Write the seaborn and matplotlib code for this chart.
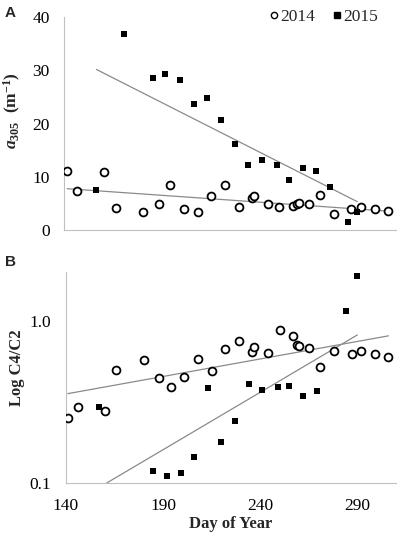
import matplotlib

matplotlib.use("Agg")

import matplotlib.pyplot as plt
import numpy as np
import pandas as pd
import seaborn as sns
from matplotlib.lines import Line2D
from matplotlib.ticker import FixedLocator, NullLocator

# 2014 sampling days and values (both panels share the same samples)
day_2014 = [141, 146, 160, 166, 180, 188, 194, 201, 208, 215, 222, 229, 236,
            237, 244, 250, 257, 259, 260, 265, 271, 278, 287, 292, 299, 306]
a305_2014 = [11.0, 7.4, 10.9, 4.1, 3.4, 4.8, 8.5, 3.9, 3.3, 6.4, 8.5, 4.3, 6.0,
             6.4, 4.9, 4.3, 4.5, 4.8, 5.1, 4.8, 6.6, 3.0, 3.9, 4.3, 3.9, 3.5]
c4c2_2014 = [0.25, 0.295, 0.278, 0.50, 0.574, 0.445, 0.388, 0.45, 0.58, 0.49, 0.67, 0.75, 0.64,
             0.685, 0.634, 0.87, 0.80, 0.71, 0.70, 0.68, 0.52, 0.65, 0.62, 0.65, 0.62, 0.60]

# 2015 samples
day_2015_a = [156, 170, 185, 191, 199, 206, 213, 220, 227, 234, 241, 249, 255, 262, 269, 276, 285, 290]
a305_2015 = [7.5, 36.9, 28.6, 29.3, 28.1, 23.6, 24.8, 20.7, 16.2, 12.3, 13.1, 12.3, 9.4, 11.7, 11.0, 8.1, 1.5, 3.3]
day_2015_b = [157, 185, 192, 199, 206, 213, 220, 227, 234, 241, 249, 255, 262, 269, 284, 290]
c4c2_2015 = [0.295, 0.119, 0.110, 0.116, 0.144, 0.384, 0.178, 0.241, 0.405, 0.374, 0.39, 0.395,
             0.343, 0.368, 1.15, 1.89]

x_ticks = [140, 190, 240, 290]

sns.set_theme(style="white")
plt.rcParams.update(
    {
        "font.family": ["Liberation Serif", "DejaVu Serif"],
        "mathtext.fontset": "custom",
        "mathtext.rm": "Liberation Serif:bold",
        "mathtext.it": "Liberation Serif:italic:bold",
        "mathtext.bf": "Liberation Serif:bold",
        "axes.edgecolor": "#c0c0c0",
        "axes.linewidth": 0.8,
        "xtick.color": "#c0c0c0",
        "ytick.color": "#c0c0c0",
        "xtick.labelcolor": "black",
        "ytick.labelcolor": "black",
    }
)

GRAY = "#8a8a8a"
circ = dict(marker="o", s=32, facecolor="white", edgecolor="black", linewidth=1.3, zorder=3)
sq = dict(marker="s", s=22, color="black", linewidth=0, zorder=3)

a14 = pd.DataFrame({"day": day_2014, "a305": a305_2014, "c4c2": c4c2_2014})
a15 = pd.DataFrame({"day": day_2015_a, "a305": a305_2015})
b15 = pd.DataFrame({"day": day_2015_b, "c4c2": c4c2_2015})

fig = plt.figure(figsize=(3.97, 5.35), dpi=100)
ax1 = fig.add_axes([0.162, 0.570, 0.836, 0.398])
ax2 = fig.add_axes([0.166, 0.097, 0.832, 0.395])

# panel A
for df in (a14, a15):
    sns.regplot(data=df, x="day", y="a305", ax=ax1, scatter=False, ci=None, truncate=True,
                line_kws=dict(color=GRAY, linewidth=0.9, zorder=2))
sns.scatterplot(data=a14, x="day", y="a305", ax=ax1, **circ)
sns.scatterplot(data=a15, x="day", y="a305", ax=ax1, **sq)
ax1.set_xlim(139.5, 310)
ax1.set_ylim(0, 40)
ax1.set_yticks([0, 10, 20, 30, 40])
ax1.set_xticks(x_ticks)
ax1.set_xticklabels([])
ax1.set_xlabel("")
ax1.set_ylabel(r"$a_{305}$  $\mathrm{(m^{-1})}$", fontsize=12.5)
ax1.yaxis.set_label_coords(-0.125, 0.56)

# panel B: exponential fits (straight on log axis)
for df in (a14, b15):
    k, b = np.polyfit(df["day"], np.log10(df["c4c2"]), 1)
    xs = np.array([df["day"].min(), df["day"].max()])
    ax2.plot(xs, 10 ** (k * xs + b), color=GRAY, linewidth=0.9, zorder=2)
sns.scatterplot(data=a14, x="day", y="c4c2", ax=ax2, **circ)
sns.scatterplot(data=b15, x="day", y="c4c2", ax=ax2, **sq)
ax2.set_yscale("log")
ax2.set_xlim(140, 310)
ax2.set_ylim(0.1, 2.0)
ax2.yaxis.set_major_locator(FixedLocator([0.1, 1.0]))
ax2.yaxis.set_minor_locator(NullLocator())
ax2.set_yticklabels(["0.1", "1.0"])
ax2.set_xticks(x_ticks)
ax2.set_xlabel("Day of Year", fontsize=12, fontweight="bold", labelpad=2)
ax2.set_ylabel("Log C4/C2", fontsize=12, fontweight="bold")
ax2.yaxis.set_label_coords(-0.124, 0.545)

for ax in (ax1, ax2):
    sns.despine(ax=ax)
    ax.tick_params(axis="both", direction="out", length=3.5, width=0.8, labelsize=12.5)
    ax.tick_params(axis="y", pad=7)
ax2.tick_params(axis="x", pad=7)

fig.text(0.012, 0.976, "A", family="Liberation Sans", fontweight="bold", fontsize=11, va="center")
fig.text(0.012, 0.510, "B", family="Liberation Sans", fontweight="bold", fontsize=11, va="center")

handles = [
    Line2D([], [], marker="o", linestyle="", markerfacecolor="white", markeredgecolor="black",
           markeredgewidth=1.0, markersize=4.5),
    Line2D([], [], marker="s", linestyle="", color="black", markersize=4),
]
fig.legend(handles, ["2014", "2015"], loc="center right", bbox_to_anchor=(0.97, 0.968),
           ncol=2, frameon=False, fontsize=12.5, handletextpad=0.05, columnspacing=1.0,
           handlelength=0.6, borderaxespad=0)

fig.savefig("out.png", dpi=100, facecolor="white")
